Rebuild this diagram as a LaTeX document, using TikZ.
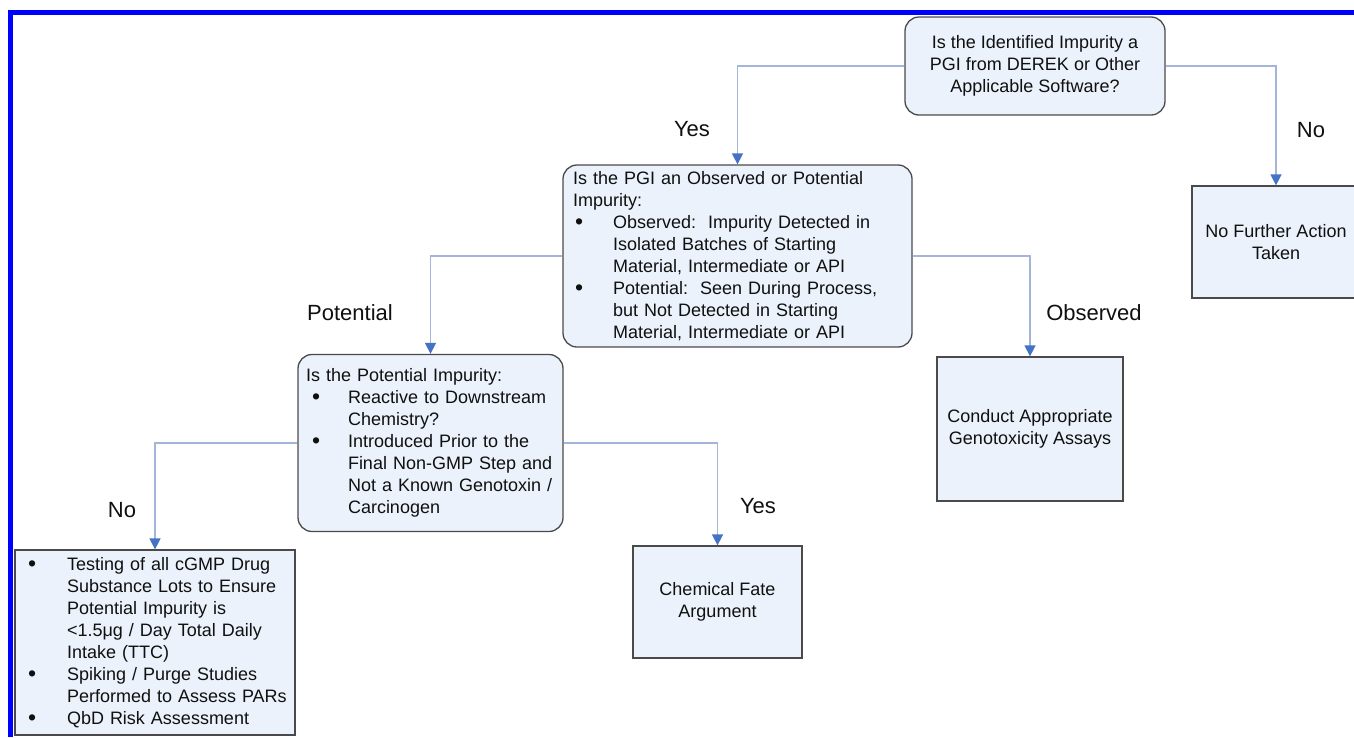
\documentclass[tikz,border=0pt]{standalone}
\usepackage{fontspec}
\setmainfont{Liberation Sans}
\usetikzlibrary{arrows.meta}
\setlength{\parindent}{0pt}
\definecolor{boxfill}{HTML}{EBF2FB}
\definecolor{boxdraw}{HTML}{4A4A4A}
\definecolor{linkc}{HTML}{A3B5D9}
\definecolor{tipc}{HTML}{4472C4}
\definecolor{txt}{HTML}{101010}
\definecolor{framec}{HTML}{0000FF}
\newcommand{\mybul}[2]{\makebox[#2][l]{\hspace*{#1}{\fontsize{23}{22}\selectfont\raisebox{-1pt}{\textbullet}}}}
\newcommand{\myind}[1]{\hspace*{#1}}
\newcommand{\boxfont}{\fontsize{18}{22}\selectfont}
\newcommand{\lblfont}{\fontsize{22}{26}\selectfont}
\tikzset{
  box/.style={draw=boxdraw, fill=boxfill, line width=1.3pt, text=txt,
    font=\boxfont, inner sep=0pt},
  rbox/.style={box, rounded corners=14pt},
  lbl/.style={text=txt, font=\lblfont, inner sep=0pt},
  link/.style={draw=linkc, line width=1.5pt,
    -{Triangle[length=11pt,width=11pt,color=tipc,fill=tipc]}}
}
\begin{document}
\begin{tikzpicture}[x=1pt,y=-1pt]
\useasboundingbox (0,0) rectangle (1354,737);
\clip (0,0) rectangle (1354,737);
\fill[white] (0,0) rectangle (1354,737);

\node[rbox, align=center, minimum width=260pt, minimum height=98pt] (q1) at (1035,66)
  {Is the Identified Impurity a\\PGI from DEREK or Other\\Applicable Software?};

\node[rbox, text width=329pt, align=left, inner xsep=10pt, minimum height=182pt] (q2) at (737.5,256)
  {Is the PGI an Observed or Potential\\
   Impurity:\\
   \mybul{2pt}{40pt}Observed:\ \ Impurity Detected in\\
   \myind{40pt}Isolated Batches of Starting\\
   \myind{40pt}Material, Intermediate or API\\
   \mybul{2pt}{40pt}Potential:\ \ Seen During Process,\\
   \myind{40pt}but Not Detected in Starting\\
   \myind{40pt}Material, Intermediate or API};

\node[box, align=center, minimum width=168pt, minimum height=112pt] (nfa) at (1276,242)
  {No Further Action\\Taken};

\node[rbox, text width=249pt, align=left, inner xsep=8pt, minimum height=177pt] (q3) at (430.5,443)
  {Is the Potential Impurity:\\
   \mybul{6pt}{42pt}Reactive to Downstream\\
   \myind{42pt}Chemistry?\\
   \mybul{6pt}{42pt}Introduced Prior to the\\
   \myind{42pt}Final Non-GMP Step and\\
   \myind{42pt}Not a Known Genotoxin /\\
   \myind{42pt}Carcinogen};

\node[box, align=center, minimum width=186pt, minimum height=144pt] (assay) at (1030,429)
  {Conduct Appropriate\\Genotoxicity Assays};

\node[box, align=center, minimum width=169pt, minimum height=112pt] (fate) at (717.5,602)
  {Chemical Fate\\Argument};

\node[box, text width=266pt, align=left, inner xsep=7pt, minimum height=185pt] (test) at (155,642.5)
  {\mybul{6pt}{45pt}Testing of all cGMP Drug\\
   \myind{45pt}Substance Lots to Ensure\\
   \myind{45pt}Potential Impurity is\\
   \myind{45pt}<1.5μg / Day Total Daily\\
   \myind{45pt}Intake (TTC)\\
   \mybul{6pt}{45pt}Spiking / Purge Studies\\
   \myind{45pt}Performed to Assess PARs\\
   \mybul{6pt}{45pt}QbD Risk Assessment};

\draw[link] (q1.west) -| (q2.north);
\draw[link] (q1.east) -| (nfa.north);
\draw[link] (q2.west) -| (q3.north);
\draw[link] (q2.east) -| (assay.north);
\draw[link] (q3.west) -| (test.north);
\draw[link] (q3.east) -| (fate.north);

\node[lbl] (lyes1) at (692,129) {Yes};
\node[lbl] (lno1) at (1311,130) {No};
\node[lbl] (lpot) at (350,313) {Potential};
\node[lbl] (lobs) at (1094,313) {Observed};
\node[lbl] (lno2) at (122,510) {No};
\node[lbl] (lyes2) at (758,506) {Yes};

\draw[framec, line width=5pt] (10,737) -- (10,12) -- (1354,12);
\end{tikzpicture}
\end{document}
